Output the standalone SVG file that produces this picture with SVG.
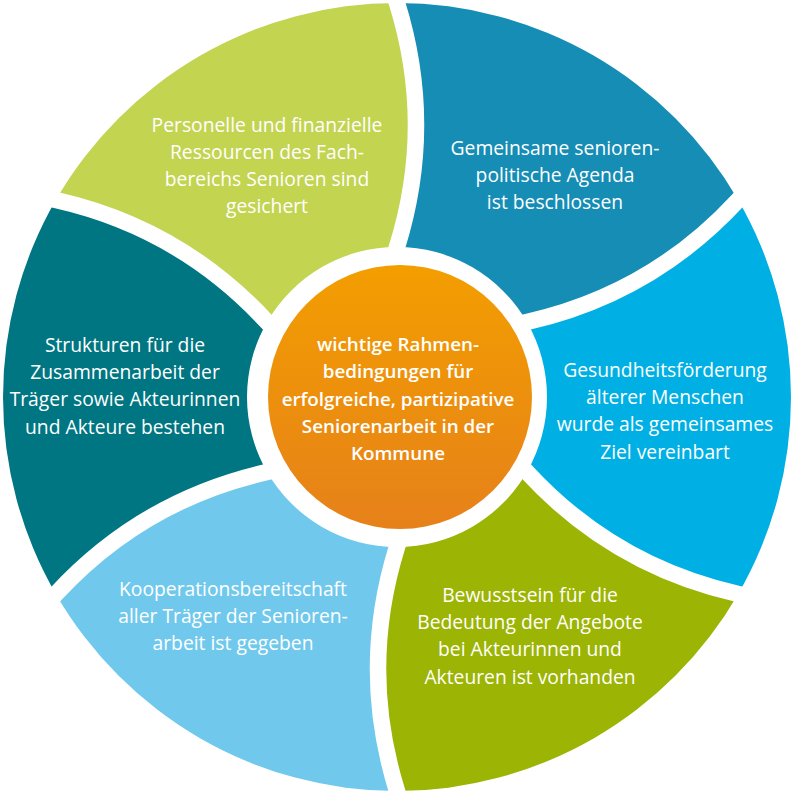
<svg xmlns="http://www.w3.org/2000/svg" width="794" height="794" viewBox="0 0 794 794">
  <style>
    .lbl { font-family: "Open Sans", "Noto Sans", "DejaVu Sans", sans-serif; font-size: 19.3px; font-weight: 500; fill: #ffffff; text-anchor: middle; }
    .ctr { font-family: "Open Sans", "Noto Sans", "DejaVu Sans", sans-serif; font-size: 18.8px; font-weight: 600; fill: #ffffff; text-anchor: middle; }
    .gap { fill: none; stroke: #ffffff; stroke-width: 16.5; stroke-linecap: square; }
  </style>
  <defs>
    <linearGradient id="orangeGrad" x1="0" y1="0" x2="0" y2="1">
      <stop offset="0" stop-color="#F39E00"/>
      <stop offset="1" stop-color="#E6811A"/>
    </linearGradient>
  </defs>
  <rect width="794" height="794" fill="#ffffff"/>

  <g id="petal-agenda">
    <path fill="#158DB5" d="M397,247 Q435,125 397,3 A394,394 0 0 1 738.2,200 Q651.56,293.91 526.9,322 A150,150 0 0 0 397,247 Z"/>
    <text class="lbl" x="555" y="155"><tspan x="555">Gemeinsame senioren-</tspan><tspan x="555" dy="27.2">politische Agenda</tspan><tspan x="555" dy="27.2">ist beschlossen</tspan></text>
  </g>

  <g id="petal-gesundheit">
    <path fill="#00B0E4" d="M526.9,322 Q651.56,293.91 738.2,200 A394,394 0 0 1 738.2,594 Q613.56,565.91 526.9,472 A150,150 0 0 0 526.9,322 Z"/>
    <text class="lbl" x="665" y="377"><tspan x="665">Gesundheitsförderung</tspan><tspan x="665" dy="27.2">älterer Menschen</tspan><tspan x="665" dy="27.2">wurde als gemeinsames</tspan><tspan x="665" dy="27.2">Ziel vereinbart</tspan></text>
  </g>

  <g id="petal-bewusstsein">
    <path fill="#9CB403" d="M526.9,472 Q613.56,565.91 738.2,594 A394,394 0 0 1 397,791 Q359,669 397,547 A150,150 0 0 0 526.9,472 Z"/>
    <text class="lbl" x="530" y="602"><tspan x="530">Bewusstsein für die</tspan><tspan x="530" dy="27.2">Bedeutung der Angebote</tspan><tspan x="530" dy="27.2">bei Akteurinnen und</tspan><tspan x="530" dy="27.2">Akteuren ist vorhanden</tspan></text>
  </g>

  <g id="petal-kooperation">
    <path fill="#70C9EC" d="M397,547 Q359,669 397,791 A394,394 0 0 1 55.8,594 Q142.44,500.09 267.1,472 A150,150 0 0 0 397,547 Z"/>
    <text class="lbl" x="233" y="596"><tspan x="233">Kooperationsbereitschaft</tspan><tspan x="233" dy="27.2">aller Träger der Senioren-</tspan><tspan x="233" dy="27.2">arbeit ist gegeben</tspan></text>
  </g>

  <g id="petal-strukturen">
    <path fill="#007682" d="M267.1,472 Q142.44,500.09 55.8,594 A394,394 0 0 1 55.8,200 Q180.44,228.09 267.1,322 A150,150 0 0 0 267.1,472 Z"/>
    <text class="lbl" x="125" y="352"><tspan x="125">Strukturen für die</tspan><tspan x="125" dy="27.2">Zusammenarbeit der</tspan><tspan x="125" dy="27.2">Träger sowie Akteurinnen</tspan><tspan x="125" dy="27.2">und Akteure bestehen</tspan></text>
  </g>

  <g id="petal-ressourcen">
    <path fill="#C3D451" d="M267.1,322 Q180.44,228.09 55.8,200 A394,394 0 0 1 397,3 Q435,125 397,247 A150,150 0 0 0 267.1,322 Z"/>
    <text class="lbl" x="267" y="131.5"><tspan x="267">Personelle und finanzielle</tspan><tspan x="267" dy="27.2">Ressourcen des Fach-</tspan><tspan x="267" dy="27.2">bereichs Senioren sind</tspan><tspan x="267" dy="27.2">gesichert</tspan></text>
  </g>

  <g id="gaps">
    <path class="gap" d="M397,247 Q435,125 397,3"/>
    <path class="gap" d="M526.9,322 Q651.56,293.91 738.2,200"/>
    <path class="gap" d="M526.9,472 Q613.56,565.91 738.2,594"/>
    <path class="gap" d="M397,547 Q359,669 397,791"/>
    <path class="gap" d="M267.1,472 Q142.44,500.09 55.8,594"/>
    <path class="gap" d="M267.1,322 Q180.44,228.09 55.8,200"/>
  </g>

  <g id="center">
    <circle cx="400" cy="397" r="132" fill="url(#orangeGrad)"/>
    <text class="ctr" x="398" y="351"><tspan x="398">wichtige Rahmen-</tspan><tspan x="398" dy="27.3">bedingungen für</tspan><tspan x="398" dy="27.3">erfolgreiche, partizipative</tspan><tspan x="398" dy="27.3">Seniorenarbeit in der</tspan><tspan x="398" dy="27.3">Kommune</tspan></text>
  </g>
</svg>
